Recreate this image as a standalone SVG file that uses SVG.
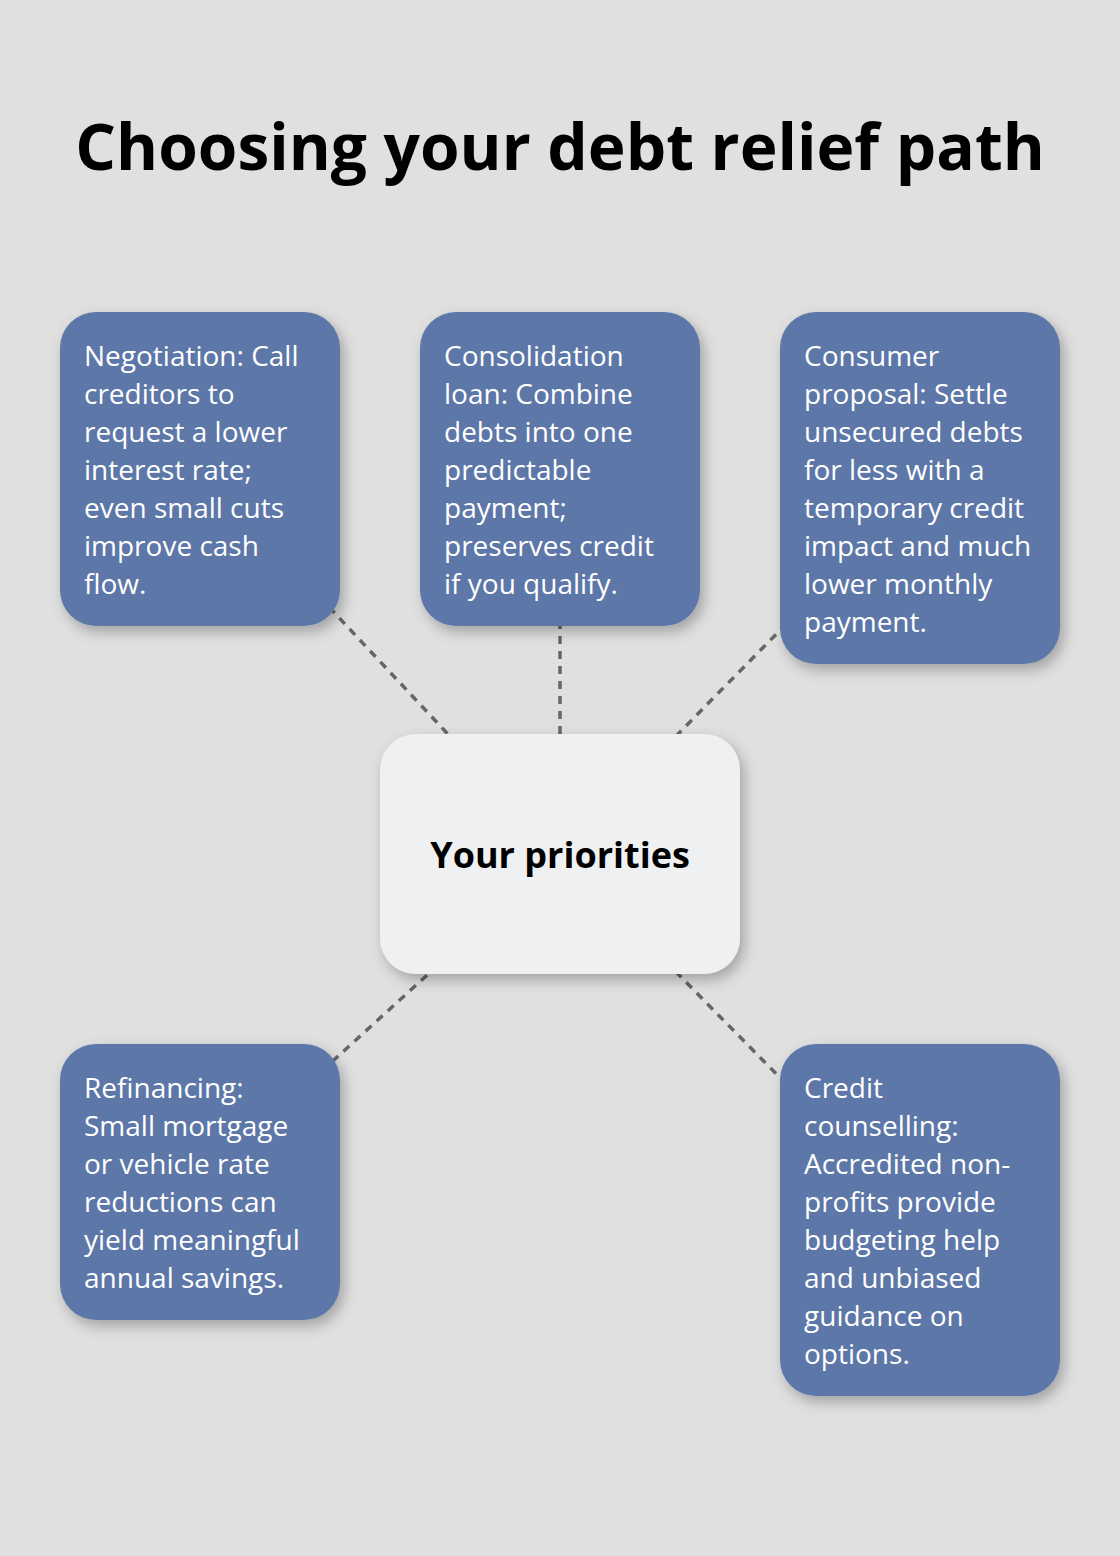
<svg xmlns="http://www.w3.org/2000/svg" width="1120" height="1556" viewBox="0 0 1120 1556">
<defs>
<filter id="sh" x="-20%" y="-20%" width="140%" height="140%">
<feDropShadow dx="4" dy="6" stdDeviation="7" flood-color="#000" flood-opacity="0.28"/>
</filter>
<style>
.box{fill:#5d77a8;filter:url(#sh)}
.ctr{fill:#eff0f2;filter:url(#sh)}
.t{font-family:"Open Sans","Noto Sans",sans-serif;font-size:28px;fill:#ffffff}
.conn{stroke:#666666;stroke-width:3.5;stroke-dasharray:8 7;fill:none}
</style>
</defs>
<rect width="1120" height="1556" fill="#dfe0df"/>
<text x="560" y="170" text-anchor="middle" font-family="'Open Sans','Noto Sans',sans-serif" font-weight="bold" font-size="64" fill="#000">Choosing your debt relief path</text>
<g id="connectors">
<line class="conn" x1="560" y1="854" x2="200" y2="469"/>
<line class="conn" x1="560" y1="854" x2="560" y2="469"/>
<line class="conn" x1="560" y1="854" x2="920" y2="488"/>
<line class="conn" x1="560" y1="854" x2="200" y2="1182"/>
<line class="conn" x1="560" y1="854" x2="920" y2="1220"/>
</g>
<g id="n1">
<rect class="box" x="60" y="312" width="280" height="314" rx="36"/>
<text class="t"><tspan x="84" y="366">Negotiation: Call</tspan><tspan x="84" y="404">creditors to</tspan><tspan x="84" y="442">request a lower</tspan><tspan x="84" y="480">interest rate;</tspan><tspan x="84" y="518">even small cuts</tspan><tspan x="84" y="556">improve cash</tspan><tspan x="84" y="594">flow.</tspan></text>
</g>
<g id="n2">
<rect class="box" x="420" y="312" width="280" height="314" rx="36"/>
<text class="t"><tspan x="444" y="366">Consolidation</tspan><tspan x="444" y="404">loan: Combine</tspan><tspan x="444" y="442">debts into one</tspan><tspan x="444" y="480">predictable</tspan><tspan x="444" y="518">payment;</tspan><tspan x="444" y="556">preserves credit</tspan><tspan x="444" y="594">if you qualify.</tspan></text>
</g>
<g id="n3">
<rect class="box" x="780" y="312" width="280" height="352" rx="36"/>
<text class="t"><tspan x="804" y="366">Consumer</tspan><tspan x="804" y="404">proposal: Settle</tspan><tspan x="804" y="442">unsecured debts</tspan><tspan x="804" y="480">for less with a</tspan><tspan x="804" y="518">temporary credit</tspan><tspan x="804" y="556">impact and much</tspan><tspan x="804" y="594">lower monthly</tspan><tspan x="804" y="632">payment.</tspan></text>
</g>
<g id="center">
<rect class="ctr" x="380" y="734" width="360" height="240" rx="36"/>
<text x="560" y="868" text-anchor="middle" font-family="'Open Sans','Noto Sans',sans-serif" font-weight="bold" font-size="36" fill="#000">Your priorities</text>
</g>
<g id="n4">
<rect class="box" x="60" y="1044" width="280" height="276" rx="36"/>
<text class="t"><tspan x="84" y="1098">Refinancing:</tspan><tspan x="84" y="1136">Small mortgage</tspan><tspan x="84" y="1174">or vehicle rate</tspan><tspan x="84" y="1212">reductions can</tspan><tspan x="84" y="1250">yield meaningful</tspan><tspan x="84" y="1288">annual savings.</tspan></text>
</g>
<g id="n5">
<rect class="box" x="780" y="1044" width="280" height="352" rx="36"/>
<text class="t"><tspan x="804" y="1098">Credit</tspan><tspan x="804" y="1136">counselling:</tspan><tspan x="804" y="1174">Accredited non-</tspan><tspan x="804" y="1212">profits provide</tspan><tspan x="804" y="1250">budgeting help</tspan><tspan x="804" y="1288">and unbiased</tspan><tspan x="804" y="1326">guidance on</tspan><tspan x="804" y="1364">options.</tspan></text>
</g>
</svg>
